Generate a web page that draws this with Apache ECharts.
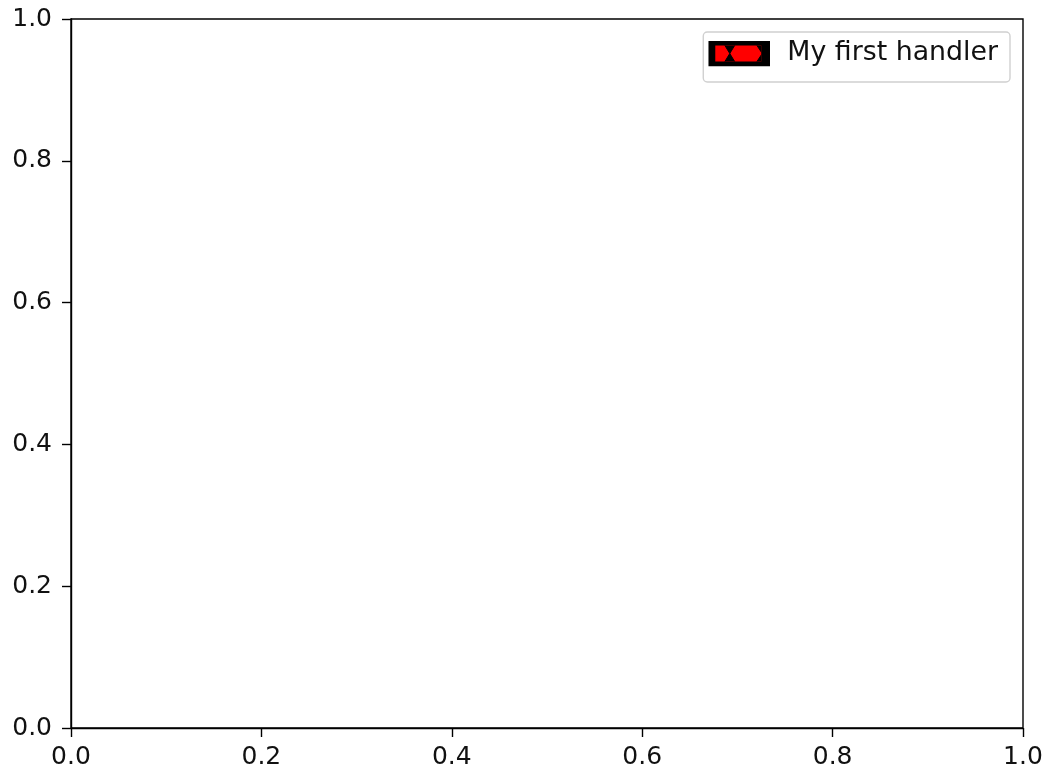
<!DOCTYPE html>
<html>
<head>
<meta charset="utf-8">
<script src="https://cdn.jsdelivr.net/npm/echarts@6/dist/echarts.min.js"></script>
<style>
html,body{margin:0;padding:0;background:#fff;}
#chart{width:1047px;height:772px;}
</style>
</head>
<body>
<div id="chart"></div>
<script>
// Data
const xTicks = [0.0, 0.2, 0.4, 0.6, 0.8, 1.0];
const yTicks = [0.0, 0.2, 0.4, 0.6, 0.8, 1.0];
const seriesNames = ['My first handler'];
const seriesValues = [];

// Legend handle: red rectangle, black 'xx' hatch, thick black edge
const handleSvg =
  '<svg xmlns="http://www.w3.org/2000/svg" width="62" height="26" viewBox="0 0 62 26">' +
  '<defs><clipPath id="c"><rect x="7" y="5" width="46" height="16"/></clipPath></defs>' +
  '<rect x="0" y="0" width="62" height="26" fill="#000"/>' +
  '<rect x="7" y="5" width="46" height="16" fill="#ff0000"/>' +
  '<g clip-path="url(#c)" fill="#000" stroke="#000" stroke-width="1">' +
  '<polygon points="16,4 27,4 21.5,13 27,22 16,22 21.5,13"/>' +
  '<polygon points="48,4 60,4 54,13 60,22 48,22 54,13"/>' +
  '</g></svg>';
const handleIcon = 'image://data:image/svg+xml;base64,' + btoa(handleSvg);

const chart = echarts.init(document.getElementById('chart'), null, {renderer: 'canvas'});
const axisCommon = {
  type: 'value', min: 0, max: 1, interval: 0.2,
  axisLine: {show: true, lineStyle: {color: '#000', width: 1.4}},
  axisTick: {show: true, inside: false, length: 9, lineStyle: {color: '#000', width: 1.4}},
  axisLabel: {color: '#111', fontSize: 25, fontFamily: 'DejaVu Sans', formatter: v => v.toFixed(1)},
  splitLine: {show: false}
};
chart.setOption({
  animation: false,
  backgroundColor: '#fff',
  grid: {left: 71, right: 24, top: 19, bottom: 44, show: true, borderColor: '#000', borderWidth: 1.4, containLabel: false},
  xAxis: Object.assign({}, axisCommon, {axisLabel: Object.assign({}, axisCommon.axisLabel, {margin: 17})}),
  yAxis: Object.assign({}, axisCommon, {axisLabel: Object.assign({}, axisCommon.axisLabel, {margin: 19})}),
  legend: {
    show: true, right: 37, top: 32,
    data: [{name: seriesNames[0], icon: handleIcon}],
    itemWidth: 62, itemHeight: 26,
    padding: [8, 12, 15, 5],
    borderColor: '#d0d0d0', borderWidth: 1.4, borderRadius: 4,
    backgroundColor: 'rgba(255,255,255,0.8)',
    textStyle: {fontSize: 26.8, fontFamily: 'DejaVu Sans', color: '#111', padding: [0, 0, 0, 12]}
  },
  series: [{name: seriesNames[0], type: 'line', data: seriesValues, itemStyle: {color: '#ff0000'}}]
});
</script>
</body>
</html>
